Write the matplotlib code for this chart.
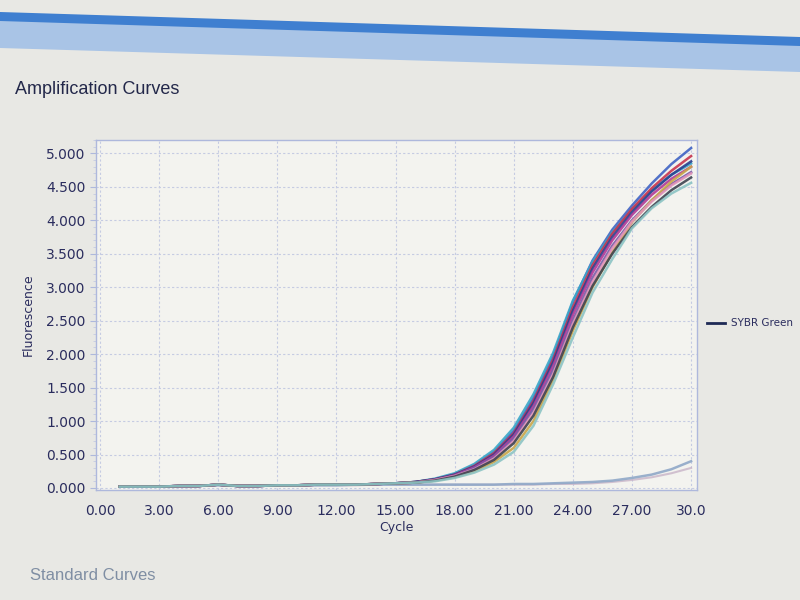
import matplotlib
matplotlib.use("Agg")
import matplotlib.pyplot as plt
from matplotlib.patches import Polygon
from matplotlib.ticker import MultipleLocator, FixedLocator
from matplotlib.lines import Line2D

# cycles 1..30
cycles = list(range(1, 31))

# shared flat start, cycles 1..14
baseline = [0.02, 0.02, 0.02, 0.03, 0.03, 0.05, 0.03, 0.03, 0.04, 0.04,
            0.05, 0.05, 0.05, 0.06]

# amplification part, cycles 15..30
samples = {
    "blue":      [0.07, 0.09, 0.13, 0.21, 0.34, 0.54, 0.85, 1.34, 1.97, 2.78, 3.40, 3.86, 4.22, 4.55, 4.84, 5.08],
    "teal":      [0.07, 0.09, 0.14, 0.22, 0.36, 0.57, 0.90, 1.40, 2.02, 2.80, 3.38, 3.82, 4.16, 4.45, 4.68, 4.85],
    "red":       [0.07, 0.09, 0.13, 0.20, 0.33, 0.52, 0.82, 1.30, 1.92, 2.70, 3.33, 3.80, 4.17, 4.48, 4.74, 4.96],
    "navy":      [0.07, 0.09, 0.13, 0.20, 0.32, 0.50, 0.80, 1.27, 1.88, 2.65, 3.28, 3.75, 4.12, 4.43, 4.68, 4.88],
    "magenta":   [0.07, 0.08, 0.12, 0.19, 0.31, 0.48, 0.77, 1.22, 1.82, 2.58, 3.22, 3.70, 4.08, 4.38, 4.62, 4.80],
    "purple":    [0.07, 0.08, 0.12, 0.18, 0.30, 0.46, 0.74, 1.18, 1.76, 2.50, 3.14, 3.62, 4.00, 4.30, 4.54, 4.72],
    "olive":     [0.07, 0.08, 0.11, 0.16, 0.25, 0.39, 0.60, 1.00, 1.62, 2.35, 3.00, 3.52, 3.97, 4.30, 4.58, 4.80],
    "pink":      [0.07, 0.08, 0.12, 0.18, 0.28, 0.44, 0.70, 1.12, 1.70, 2.45, 3.08, 3.58, 3.98, 4.28, 4.52, 4.70],
    "darkgray":  [0.07, 0.08, 0.11, 0.17, 0.27, 0.42, 0.67, 1.08, 1.66, 2.40, 3.02, 3.50, 3.90, 4.20, 4.45, 4.64],
    "lightteal": [0.07, 0.08, 0.10, 0.15, 0.23, 0.35, 0.54, 0.93, 1.55, 2.25, 2.92, 3.42, 3.88, 4.18, 4.40, 4.56],
}

# negative controls, cycles 1..30
ntc_1 = [0.02, 0.02, 0.02, 0.03, 0.03, 0.04, 0.03, 0.03, 0.04, 0.04,
         0.04, 0.04, 0.05, 0.05, 0.05, 0.05, 0.05, 0.05, 0.05, 0.05,
         0.06, 0.06, 0.07, 0.08, 0.09, 0.11, 0.15, 0.20, 0.28, 0.40]
ntc_2 = [0.02, 0.02, 0.02, 0.03, 0.03, 0.04, 0.03, 0.03, 0.04, 0.04,
         0.04, 0.04, 0.04, 0.05, 0.05, 0.05, 0.05, 0.05, 0.05, 0.05,
         0.05, 0.05, 0.06, 0.06, 0.07, 0.09, 0.12, 0.16, 0.22, 0.30]

x_ticks = [0, 3, 6, 9, 12, 15, 18, 21, 24, 27, 30]
x_labels = ["0.00", "3.00", "6.00", "9.00", "12.00", "15.00", "18.00",
            "21.00", "24.00", "27.00", "30.0"]

colors = {
    "blue": "#3f63c4", "teal": "#3aa6c8", "red": "#c8344e", "navy": "#2c3f8e",
    "magenta": "#b23a97", "purple": "#7a5aa8", "olive": "#c9a64a",
    "pink": "#e294b8", "darkgray": "#3e4450", "lightteal": "#8cc4c4",
}

text_col = "#2b2d5e"

fig = plt.figure(figsize=(8, 6), dpi=100, facecolor="#e8e8e4")

# window header band (slanted as in the photo)
fig.add_artist(Polygon([(0, 1 - 20/600), (1, 1 - 45/600), (1, 1 - 72/600), (0, 1 - 48/600)],
                       closed=True, transform=fig.transFigure,
                       facecolor="#a9c4e6", edgecolor="none"))
fig.add_artist(Polygon([(0, 1 - 12/600), (1, 1 - 37/600), (1, 1 - 46/600), (0, 1 - 21/600)],
                       closed=True, transform=fig.transFigure,
                       facecolor="#3f7fd0", edgecolor="none"))

fig.text(15/800, 1 - 90/600, "Amplification Curves", fontsize=13,
         family="Liberation Sans", color="#23284a", va="center")
fig.text(30/800, 1 - 575/600, "Standard Curves", fontsize=12,
         family="Liberation Sans", color="#7f8ea3", va="center")

ax = fig.add_axes([96/800, 1 - 490/600, 601/800, 350/600])
ax.set_facecolor("#f3f3ef")

ax.plot(cycles, ntc_2, color="#c8b4c8", lw=1.5, alpha=0.8)
ax.plot(cycles, ntc_1, color="#8fa8c8", lw=1.8, alpha=0.9)

for name, tail in samples.items():
    ax.plot(cycles, baseline + tail, color=colors[name], lw=1.8, alpha=0.9)

ax.set_xlim(-0.2, 30.3)
ax.set_ylim(-0.03, 5.2)
ax.xaxis.set_major_locator(FixedLocator(x_ticks))
ax.set_xticklabels(x_labels)
ax.yaxis.set_major_locator(MultipleLocator(0.5))
ax.yaxis.set_minor_locator(MultipleLocator(0.1))
ax.yaxis.set_major_formatter(lambda v, p: f"{v:.3f}")

ax.grid(True, which="major", color="#c5cbe2", lw=0.8, ls=(0, (2, 2)))
for s in ax.spines.values():
    s.set_color("#aeb8dc")
    s.set_linewidth(1.0)

ax.tick_params(axis="both", which="major", colors="#aeb8dc", labelcolor=text_col,
               labelsize=10, length=4)
ax.tick_params(axis="x", length=0, pad=10)
ax.tick_params(axis="y", which="minor", colors="#c5cbe2", length=2)

ax.set_xlabel("Cycle", fontsize=9, color=text_col, labelpad=2)
ax.set_ylabel("Fluorescence", fontsize=9, color=text_col, labelpad=8)

# series key at the right edge
key_y = 1 - 323/600
fig.add_artist(Line2D([707/800, 725/800], [key_y, key_y], color="#1e2a55",
                      lw=2, transform=fig.transFigure))
fig.text(731/800, key_y, "SYBR Green", fontsize=7.5, color=text_col, va="center")

fig.savefig("out.png", dpi=100, facecolor=fig.get_facecolor())
